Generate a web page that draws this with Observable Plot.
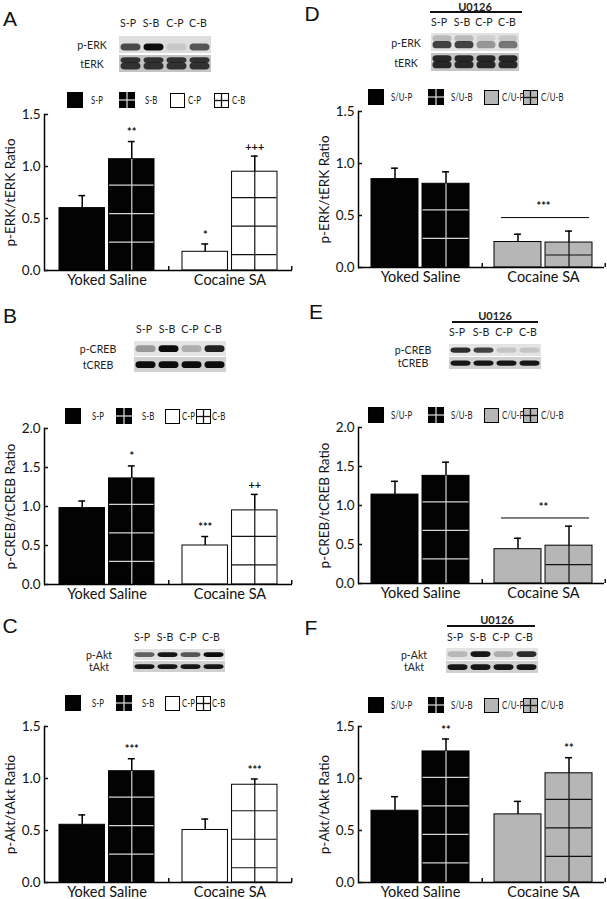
<!DOCTYPE html>
<html><head><meta charset="utf-8">
<script src="https://cdn.jsdelivr.net/npm/d3@7"></script>
<script src="https://cdn.jsdelivr.net/npm/@observablehq/plot@0.6"></script>
<style>
body{margin:0;background:#fff;}
#fig{position:relative;width:607px;height:899px;overflow:hidden;font-family:Lato,"Open Sans",sans-serif;color:#111;}
.t{position:absolute;transform:translate(-50%,-50%);white-space:nowrap;line-height:1;}
.letter{font-family:"Liberation Sans",Arial,sans-serif;font-size:21px;}
svg{overflow:visible;}
</style></head>
<body><div id="fig"></div>
<script>
// ---------- data ----------
const groups = ["Yoked Saline", "Cocaine SA"];
const lanes = ["S-P", "S-B", "C-P", "C-B"];
const legendABC = ["S-P", "S-B", "C-P", "C-B"];
const legendDEF = ["S/U-P", "S/U-B", "C/U-P", "C/U-B"];
const ticks15 = [0, 0.5, 1.0, 1.5];
const ticks20 = [0, 0.5, 1.0, 1.5, 2.0];

// A: p-ERK/tERK
const erkMean = [0.60, 1.07, 0.18, 0.95];
const erkSem = [0.12, 0.17, 0.075, 0.15];
const erkSig = ["", "**", "*", "+++"];
// B: p-CREB/tCREB
const crebMean = [0.98, 1.36, 0.50, 0.95];
const crebSem = [0.09, 0.16, 0.115, 0.205];
const crebSig = ["", "*", "***", "++"];
// C: p-Akt/tAkt
const aktMean = [0.555, 1.07, 0.505, 0.94];
const aktSem = [0.095, 0.12, 0.105, 0.055];
const aktSig = ["", "***", "", "***"];
// D: p-ERK/tERK with U0126
const erkUMean = [0.85, 0.805, 0.245, 0.24];
const erkUSem = [0.105, 0.115, 0.075, 0.11];
const erkUSig = ["", "", "", ""];
const erkUBracket = [{group: "Cocaine SA", y: 0.48, label: "***"}];
// E: p-CREB/tCREB with U0126
const crebUMean = [1.14, 1.38, 0.44, 0.485];
const crebUSem = [0.17, 0.175, 0.14, 0.25];
const crebUSig = ["", "", "", ""];
const crebUBracket = [{group: "Cocaine SA", y: 0.84, label: "**"}];
// F: p-Akt/tAkt with U0126
const aktUMean = [0.69, 1.26, 0.655, 1.05];
const aktUSem = [0.135, 0.12, 0.125, 0.15];
const aktUSig = ["", "**", "", "**"];

// western blot band intensities per lane (S-P, S-B, C-P, C-B)
const blotA_p = [0.7, 1.0, 0.1, 0.65], blotA_t = [0.8, 0.8, 0.8, 0.8];
const blotB_p = [0.35, 1.0, 0.25, 0.9], blotB_t = [1, 1, 1, 1];
const blotC_p = [0.6, 0.95, 0.65, 1.0], blotC_t = [0.95, 0.95, 0.95, 0.95];
const blotD_p = [0.75, 0.75, 0.35, 0.5], blotD_t = [0.85, 0.85, 0.85, 0.85];
const blotE_p = [0.85, 0.75, 0.15, 0.15], blotE_t = [0.95, 0.95, 0.95, 0.95];
const blotF_p = [0.2, 0.95, 0.25, 0.85], blotF_t = [0.95, 0.95, 0.95, 0.95];

// ---------- helpers ----------
const fig = document.getElementById("fig");
function txt(s, x, y, size, extra = "") {
  const d = document.createElement("div");
  d.className = "t"; d.textContent = s;
  d.style.cssText += `left:${x}px;top:${y}px;font-size:${size}px;${extra}`;
  fig.append(d); return d;
}
function put(el, x, y) {
  el.style.position = "absolute"; el.style.left = x + "px"; el.style.top = y + "px";
  fig.append(el);
}

function chart(o) {
  const innerH = 156, mT = 10, mB = 22;
  const {width, marginLeft, marginRight, pi, po, ymax, treated} = o;
  const data = o.mean.map((v, i) => ({group: groups[i >> 1], kind: i % 2 ? "B" : "P", value: v, cap: v + o.sem[i], sig: o.sig[i]}));
  const innerW = width - marginLeft - marginRight;
  const step = innerW / (2 - pi + 2 * po);
  const bw = step * (1 - pi), gap = 4;
  const half = (bw + gap) / 2, off = (bw + gap) / 4, capHalf = 3.5;
  const ppu = innerH / ymax;
  const P = data.filter(d => d.kind === "P"), B = data.filter(d => d.kind === "B");
  const hatch = [];
  B.forEach(d => {
    const h = d.value * ppu;
    if (h < 40) hatch.push({group: d.group, y: d.value / 2});
    else for (let k = 26; k < h - 6; k += 28.5) hatch.push({group: d.group, y: d.value - k / ppu});
  });
  const fillOf = d => d.group === groups[0] ? "#030303" : (treated ? "#b6b6b6" : "#ffffff");
  const lineOf = d => d.group === groups[0] ? "#d4d4d4" : "#111";
  const marks = [
    Plot.barY(P, {x: "group", y: "value", fill: fillOf, stroke: "#000", strokeWidth: 1, insetRight: half}),
    Plot.barY(B, {x: "group", y: "value", fill: fillOf, stroke: "#000", strokeWidth: 1, insetLeft: half}),
    Plot.tickY(hatch, {x: "group", y: "y", stroke: lineOf, strokeWidth: 1.2, insetLeft: half + 0.5, insetRight: 0.5}),
    Plot.ruleX(B, {x: "group", y1: 0, y2: "value", dx: off, stroke: lineOf, strokeWidth: 1.2}),
    Plot.ruleX(P, {x: "group", y1: "value", y2: "cap", dx: -off, stroke: "#000", strokeWidth: 1.5}),
    Plot.ruleX(B, {x: "group", y1: "value", y2: "cap", dx: off, stroke: "#000", strokeWidth: 1.5}),
    Plot.tickY(P, {x: "group", y: "cap", stroke: "#000", strokeWidth: 1.5, insetLeft: bw / 2 - off - capHalf, insetRight: bw / 2 + off - capHalf}),
    Plot.tickY(B, {x: "group", y: "cap", stroke: "#000", strokeWidth: 1.5, insetLeft: bw / 2 + off - capHalf, insetRight: bw / 2 - off - capHalf}),
    Plot.text(P.filter(d => d.sig), {x: "group", y: "cap", text: "sig", dx: -off, dy: -9, fontSize: 11, fontWeight: "bold"}),
    Plot.text(B.filter(d => d.sig), {x: "group", y: "cap", text: "sig", dx: off, dy: -9, fontSize: 11, fontWeight: "bold"}),
    Plot.ruleY([0], {stroke: "#000", strokeWidth: 1.5}),
    Plot.frame({anchor: "left", stroke: "#000", strokeWidth: 1.5}),
    Plot.axisY({ticks: o.ticks, tickFormat: d3.format(".1f"), tickSize: -4, tickPadding: 8, fontSize: 13.5,
      label: o.yLabel, labelAnchor: "center", labelArrow: "none", labelOffset: 39, strokeWidth: 1.5}),
    Plot.axisX({tickSize: 0, tickPadding: 4, fontSize: 14.5, label: null}),
    Plot.axisX({tickSize: -4, tickFormat: () => "", dx: step / 2, label: null, strokeWidth: 1.5})
  ];
  if (o.bracket) {
    marks.push(Plot.tickY(o.bracket, {x: "group", y: "y", stroke: "#000", strokeWidth: 1, insetLeft: 7, insetRight: 3}));
    marks.push(Plot.text(o.bracket, {x: "group", y: "y", text: "label", dy: -11, fontSize: 11, fontWeight: "bold"}));
  }
  const svg = Plot.plot({
    width, height: mT + innerH + mB, marginTop: mT, marginBottom: mB, marginLeft, marginRight,
    style: {background: "transparent", fontFamily: "Lato, 'Open Sans', sans-serif", color: "#111", overflow: "visible"},
    x: {domain: groups, paddingInner: pi, paddingOuter: po},
    y: {domain: [0, ymax]},
    marks
  });
  put(svg, o.left, o.top);
}

function blot(o) {
  const rows = ["p", "t"];
  const cells = rows.flatMap(r => lanes.map(l => ({row: r, lane: l})));
  const bands = [];
  lanes.forEach((l, i) => {
    if (o.kind === "erk") {
      bands.push({row: "p", lane: l, v: o.p[i], pos: "lo"});
      if (o.upper) bands.push({row: "p", lane: l, v: o.p[i] * 0.25, pos: "hi"});
      bands.push({row: "t", lane: l, v: o.t[i], pos: "hi"});
      bands.push({row: "t", lane: l, v: o.t[i], pos: "lo"});
    } else {
      bands.push({row: "p", lane: l, v: o.p[i], pos: "mid"});
      bands.push({row: "t", lane: l, v: o.t[i], pos: "mid"});
    }
  });
  const rowH = o.h * 0.47;
  const ins = {lo: [0.42, 0.14], hi: [0.12, 0.5], mid: [0.28, 0.26]};
  const bandMark = pos => Plot.cell(bands.filter(b => b.pos === pos), {x: "lane", y: "row", fill: "#0c0c0c", fillOpacity: "v",
    insetTop: rowH * ins[pos][0], insetBottom: rowH * ins[pos][1], insetLeft: 1.5, insetRight: 1.5, rx: 4});
  const svg = Plot.plot({
    width: o.w, height: o.h, margin: 0,
    style: {background: "transparent", filter: "blur(0.7px)"},
    x: {domain: lanes, padding: 0, axis: null},
    y: {domain: rows, paddingInner: 0.08, paddingOuter: 0, axis: null},
    marks: [
      Plot.cell(cells, {x: "lane", y: "row", fill: d => d.row === "p" ? o.pBg : o.tBg}),
      bandMark("lo"), bandMark("hi"), bandMark("mid")
    ]
  });
  put(svg, o.x, o.y);
  // lane headers
  lanes.forEach((l, i) => txt(l, o.x + o.w * (i + 0.5) / 4 - 2, o.headY, 12, "color:#222;transform:translate(-50%,-50%) scaleX(0.88)"));
  txt(o.pLabel, o.labX, o.y + o.h * 0.27, 11.5, "color:#222;transform:translate(-50%,-50%) scaleX(0.92)");
  txt(o.tLabel, o.labX, o.y + o.h * 0.77, 11.5, "color:#222;transform:translate(-50%,-50%) scaleX(0.92)");
  if (o.u0126) {
    txt("U0126", o.u0126.cx, o.u0126.y, 11, "color:#222;font-weight:bold");
    const line = document.createElement("div");
    line.style.cssText = `height:2px;background:#111;width:${o.u0126.x2 - o.u0126.x1}px`;
    put(line, o.u0126.x1, o.u0126.ly);
  }
}

function swatch(kind, group, treated) {
  const fill = group === 0 ? "#030303" : (treated ? "#b6b6b6" : "#ffffff");
  const ln = group === 0 ? "#d4d4d4" : "#111";
  const s = group === 0 ? 16 : 15;
  const cross = kind === "B" ? `<line x1="${s/2}" y1="0" x2="${s/2}" y2="${s}" stroke="${ln}" stroke-width="1.3"/><line x1="0" y1="${s/2}" x2="${s}" y2="${s/2}" stroke="${ln}" stroke-width="1.3"/>` : "";
  const d = document.createElement("div");
  d.innerHTML = `<svg width="${s}" height="${s}" style="display:block"><rect x="0.5" y="0.5" width="${s-1}" height="${s-1}" fill="${fill}" stroke="#000"/>${cross}</svg>`;
  return {el: d, s};
}
function legend(labels, sq, tx, y, treated) {
  labels.forEach((lab, i) => {
    const {el, s} = swatch(i % 2 ? "B" : "P", i >> 1, treated);
    put(el, sq[i], y - s / 2);
  });
  labels.forEach((lab, i) => {
    txt(lab, tx[i], y, 11.5, "transform:translate(0,-50%) scaleX(0.68);transform-origin:0 50%;color:#222");
  });
}

// ---------- panels ----------
const L = {width: 300, marginLeft: 44, marginRight: 8, pi: 0.23, po: 0.119};
const R = {width: 307, marginLeft: 58, marginRight: 3, pi: 0.206, po: 0.099};
const sqL = [67, 119, 170, 214], txL = [91, 145, 188, 232];
const sqL2 = [65, 116, 165, 196], txL2 = [92, 142, 182, 212];
const sqR = [368, 428, 484, 523], txR = [391, 451, 502, 541];

// letters
txt("A", 10, 18, 21).className += " letter";
txt("B", 10, 315, 21).className += " letter";
txt("C", 10, 625, 21).className += " letter";
txt("D", 312, 13, 21).className += " letter";
txt("E", 316, 311, 21).className += " letter";
txt("F", 311, 627, 21).className += " letter";

// A
blot({kind: "erk", p: blotA_p, t: blotA_t, x: 118, y: 35, w: 94, h: 38, headY: 23, labX: 92, pLabel: "p-ERK", tLabel: "tERK", pBg: "#dedede", tBg: "#c4c4c4"});
legend(legendABC, sqL, txL, 100, false);
chart({...L, left: 0, top: 104, mean: erkMean, sem: erkSem, sig: erkSig, ymax: 1.5, ticks: ticks15, yLabel: "p-ERK/tERK Ratio", treated: false});

// B
blot({kind: "creb", p: blotB_p, t: blotB_t, x: 134, y: 340, w: 92, h: 32, headY: 329, labX: 98, pLabel: "p-CREB", tLabel: "tCREB", pBg: "#e4e4e4", tBg: "#d0d0d0"});
legend(legendABC, sqL2, txL2, 416, false);
chart({...L, left: 0, top: 418, mean: crebMean, sem: crebSem, sig: crebSig, ymax: 2.0, ticks: ticks20, yLabel: "p-CREB/tCREB Ratio", treated: false});

// C
blot({kind: "akt", p: blotC_p, t: blotC_t, x: 132, y: 649, w: 93, h: 24, headY: 637, labX: 99, pLabel: "p-Akt", tLabel: "tAkt", pBg: "#e0e0e0", tBg: "#d0d0d0"});
legend(legendABC, sqL2, txL2, 703, false);
chart({...L, left: 0, top: 716, mean: aktMean, sem: aktSem, sig: aktSig, ymax: 1.5, ticks: ticks15, yLabel: "p-Akt/tAkt Ratio", treated: false});

// D
blot({kind: "erk", upper: true, p: blotD_p, t: blotD_t, x: 430, y: 32, w: 90, h: 40, headY: 22, labX: 406, pLabel: "p-ERK", tLabel: "tERK", pBg: "#e2e2e2", tBg: "#c4c4c4",
  u0126: {cx: 475, y: 6, x1: 430, x2: 522, ly: 11}});
legend(legendDEF, sqR, txR, 97, true);
chart({...R, left: 300, top: 101, mean: erkUMean, sem: erkUSem, sig: erkUSig, bracket: erkUBracket, ymax: 1.5, ticks: ticks15, yLabel: "p-ERK/tERK Ratio", treated: true});

// E
blot({kind: "creb", p: blotE_p, t: blotE_t, x: 447, y: 343, w: 95, h: 26, headY: 332, labX: 413, pLabel: "p-CREB", tLabel: "tCREB", pBg: "#e4e4e4", tBg: "#d0d0d0",
  u0126: {cx: 495, y: 315, x1: 452, x2: 538, ly: 321}});
legend(legendDEF, sqR, txR, 415, true);
chart({...R, left: 300, top: 417, mean: crebUMean, sem: crebUSem, sig: crebUSig, bracket: crebUBracket, ymax: 2.0, ticks: ticks20, yLabel: "p-CREB/tCREB Ratio", treated: true});

// F
blot({kind: "akt", p: blotF_p, t: blotF_t, x: 445, y: 648, w: 93, h: 25, headY: 637, labX: 414, pLabel: "p-Akt", tLabel: "tAkt", pBg: "#e4e4e4", tBg: "#d0d0d0",
  u0126: {cx: 497, y: 619, x1: 447, x2: 535, ly: 625}});
legend(legendDEF, sqR, txR, 705, true);
chart({...R, left: 300, top: 716, mean: aktUMean, sem: aktUSem, sig: aktUSig, ymax: 1.5, ticks: ticks15, yLabel: "p-Akt/tAkt Ratio", treated: true});
</script></body></html>
